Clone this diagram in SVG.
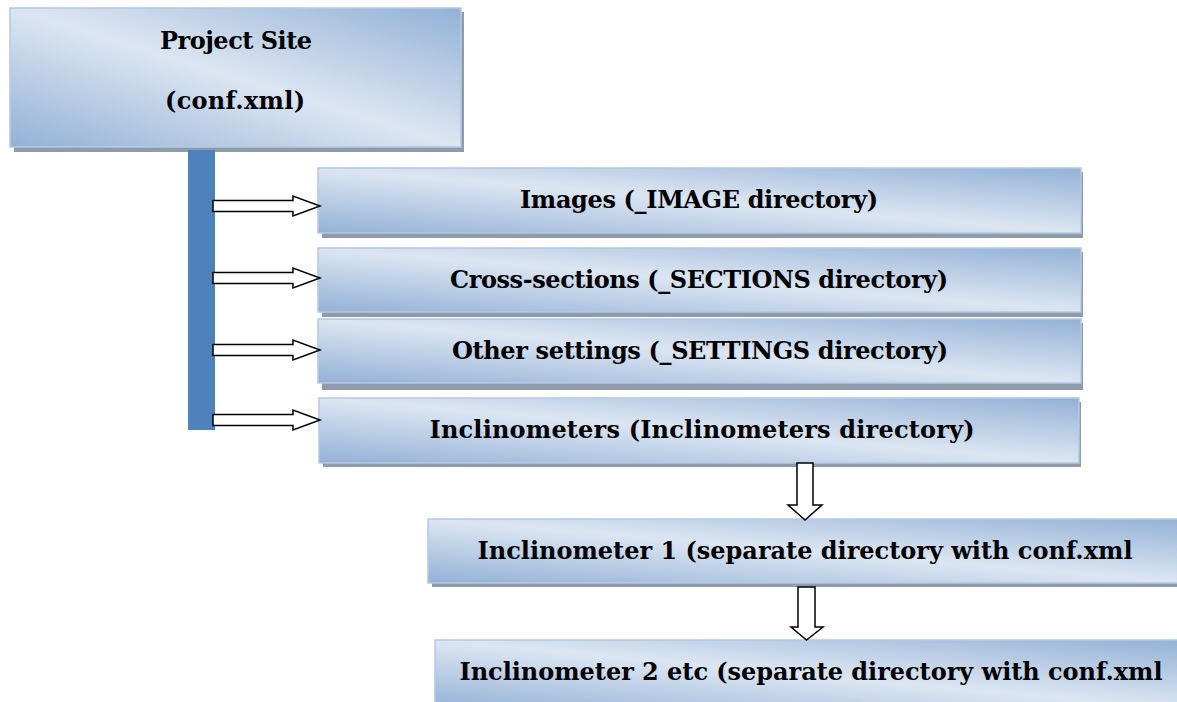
<svg xmlns="http://www.w3.org/2000/svg" width="1177" height="702" viewBox="0 0 1177 702">
<defs>
<linearGradient id="boxFill" x1="0" y1="1" x2="1" y2="0">
<stop offset="0" stop-color="#93b1d6"/>
<stop offset="0.5" stop-color="#dce6f2"/>
<stop offset="1" stop-color="#93b1d6"/>
</linearGradient>
</defs>
<style>
.shadow{fill:#8d9bab}
.box{fill:url(#boxFill);stroke:#b4c9e3;stroke-width:1.5}
.lbl{font-family:"DejaVu Serif","Liberation Serif",serif;font-weight:bold;font-size:24px;fill:#000;text-anchor:middle}
.arr{fill:#fff;stroke:#000;stroke-width:1.5;stroke-linejoin:miter}
.bar{fill:#4f81bd}
</style>
<rect width="1177" height="702" fill="#fff"/>

<g id="project-site">
<rect class="shadow" x="14" y="12" width="450" height="140"/>
<rect class="box" x="10" y="8" width="451" height="139"/>
<text class="lbl" x="236" y="49" textLength="152">Project Site</text>
<text class="lbl" x="235" y="109" textLength="140">(conf.xml)</text>
</g>

<g id="trunk">
<rect class="bar" x="188" y="150" width="27" height="280"/>
</g>

<g id="images">
<rect class="shadow" x="322" y="172" width="761" height="66"/>
<rect class="box" x="318" y="168" width="763" height="65"/>
<text class="lbl" x="699" y="208" textLength="358">Images (_IMAGE directory)</text>
</g>

<g id="cross-sections">
<rect class="shadow" x="322" y="252" width="761" height="65"/>
<rect class="box" x="318" y="248" width="763" height="64"/>
<text class="lbl" x="699" y="288" textLength="498">Cross-sections (_SECTIONS directory)</text>
</g>

<g id="other-settings">
<rect class="shadow" x="322" y="323" width="761" height="67"/>
<rect class="box" x="318" y="319" width="763" height="64"/>
<text class="lbl" x="700" y="359" textLength="496">Other settings (_SETTINGS directory)</text>
</g>

<g id="inclinometers">
<rect class="shadow" x="323" y="402" width="758" height="65"/>
<rect class="box" x="319" y="398" width="760" height="65"/>
<text class="lbl" x="702" y="438" textLength="545">Inclinometers (Inclinometers directory)</text>
</g>

<g id="inclinometer-1">
<rect class="shadow" x="432" y="523" width="750" height="64"/>
<rect class="box" x="428" y="519" width="755" height="64"/>
<text class="lbl" x="805" y="559" textLength="655">Inclinometer 1 (separate directory with conf.xml</text>
</g>

<g id="inclinometer-2">
<rect class="shadow" x="439" y="644" width="745" height="64"/>
<rect class="box" x="435" y="640" width="750" height="70"/>
<text class="lbl" x="811" y="680" textLength="703">Inclinometer 2 etc (separate directory with conf.xml</text>
</g>

<g id="connectors">
<polygon class="arr" points="213,200.5 293,200.5 293,196 320,206 293,216 293,211.5 213,211.5"/>
<polygon class="arr" points="213,272.5 293,272.5 293,268 320,278 293,288 293,283.5 213,283.5"/>
<polygon class="arr" points="213,344.5 293,344.5 293,340 320,350 293,360 293,355.5 213,355.5"/>
<polygon class="arr" points="213,414.5 293,414.5 293,410 320,420 293,430 293,425.5 213,425.5"/>
<polygon class="arr" points="797,463 813,463 813,505 822,505 805,520 788,505 797,505"/>
<polygon class="arr" points="798,587 815,587 815,627 823,627 806.5,640 791,627 798,627"/>
</g>
</svg>
